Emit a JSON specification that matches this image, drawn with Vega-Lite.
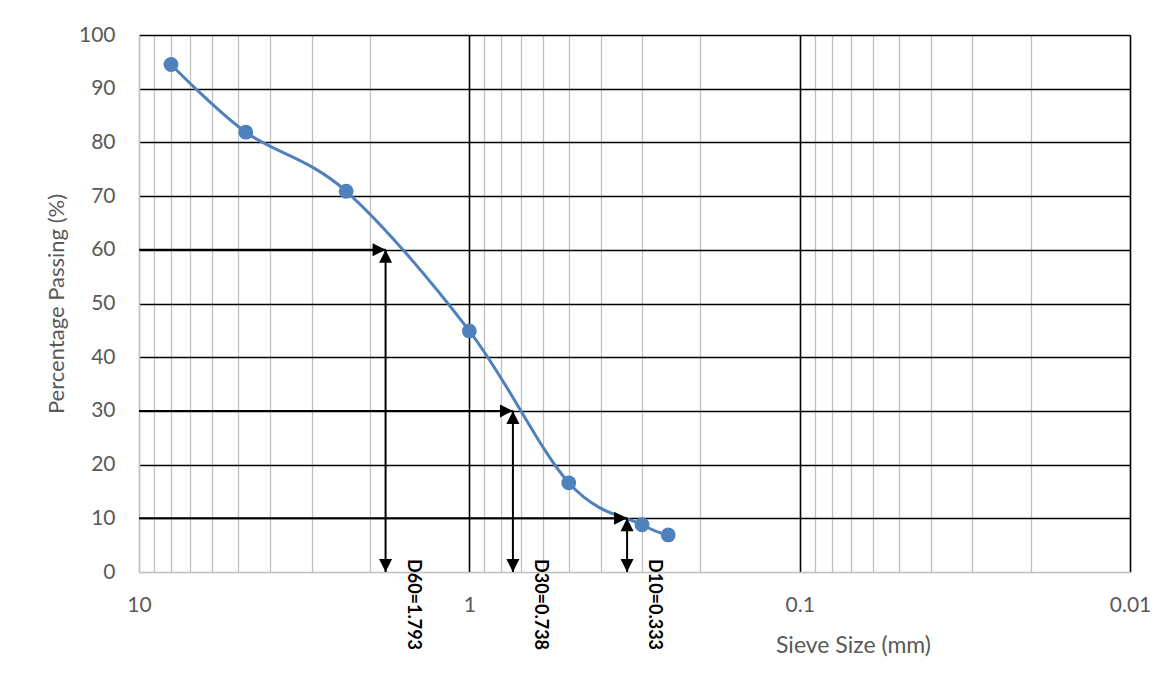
{
  "$schema": "https://vega.github.io/schema/vega-lite/v6.json",
  "width": 991,
  "height": 537,
  "autosize": {"type": "none"},
  "padding": {"left": 139, "top": 35, "right": 44, "bottom": 117},
  "background": "white",
  "config": {"view": {"stroke": null}, "font": "Lato"},
  "datasets": {
    "sieve": [
      {"size": 8, "passing": 94.5},
      {"size": 4.75, "passing": 81.9},
      {"size": 2.36, "passing": 70.9},
      {"size": 1.0, "passing": 44.9},
      {"size": 0.5, "passing": 16.6},
      {"size": 0.3, "passing": 8.8},
      {"size": 0.25, "passing": 6.9}
    ],
    "dvals": [
      {"d": 1.793, "p": 60, "label": "D60=1.793"},
      {"d": 0.738, "p": 30, "label": "D30=0.738"},
      {"d": 0.333, "p": 10, "label": "D10=0.333"}
    ]
  },
  "layer": [
    {
      "data": {"name": "sieve"},
      "mark": {"type": "line", "interpolate": "cardinal", "color": "#4f81bd", "strokeWidth": 3, "point": {"filled": true, "size": 220, "color": "#4f81bd", "opacity": 1}},
      "encoding": {
        "x": {
          "field": "size", "type": "quantitative",
          "scale": {"type": "log", "domain": [0.01, 10], "reverse": true, "nice": false},
          "axis": {
            "values": [0.01, 0.02, 0.03, 0.04, 0.05, 0.06, 0.07, 0.08, 0.09, 0.1, 0.2, 0.3, 0.4, 0.5, 0.6, 0.7, 0.8, 0.9, 1, 2, 3, 4, 5, 6, 7, 8, 9, 10],
            "grid": true,
            "gridColor": {"condition": {"test": "datum.value < 5 && abs(log(datum.value)/LN10 - round(log(datum.value)/LN10)) < 0.001", "value": "#000000"}, "value": "#bfbfbf"},
            "gridWidth": {"condition": {"test": "datum.value < 5 && abs(log(datum.value)/LN10 - round(log(datum.value)/LN10)) < 0.001", "value": 1.6}, "value": 1.25},
            "ticks": false,
            "domain": true,
            "domainColor": "#bfbfbf",
            "domainWidth": 1.5,
            "labelExpr": "abs(log(datum.value)/LN10 - round(log(datum.value)/LN10)) < 0.001 ? '' + datum.value : ''",
            "labelOverlap": false,
            "labelFlush": false,
            "labelFontSize": 21,
            "labelColor": "#595959",
            "labelPadding": 22,
            "title": "Sieve Size (mm)",
            "titleFontSize": 23,
            "titleFontWeight": "normal",
            "titleColor": "#595959",
            "titleAlign": "center",
            "titleBaseline": "middle",
            "titleX": 714,
            "titleY": 73
          }
        },
        "y": {
          "field": "passing", "type": "quantitative",
          "scale": {"domain": [0, 100], "nice": false},
          "axis": {
            "values": [0, 5, 10, 15, 20, 25, 30, 35, 40, 45, 50, 55, 60, 65, 70, 75, 80, 85, 90, 95, 100],
            "grid": true,
            "gridColor": {"condition": {"test": "datum.value > 0 && datum.value % 10 == 0", "value": "#000000"}, "value": "#eeeeee"},
            "gridWidth": {"condition": {"test": "datum.value > 0 && datum.value % 10 == 0", "value": 1.6}, "value": 1.25},
            "ticks": false,
            "domain": true,
            "domainColor": "#bfbfbf",
            "domainWidth": 1.5,
            "labelExpr": "datum.value % 10 == 0 ? datum.label : ''",
            "labelOverlap": false,
            "labelFontSize": 21,
            "labelColor": "#595959",
            "labelPadding": 24,
            "title": "Percentage Passing (%)",
            "titleFontSize": 22,
            "titleFontWeight": "normal",
            "titleColor": "#595959",
            "titlePadding": 10
          }
        }
      }
    },
    {
      "data": {"name": "dvals"},
      "mark": {"type": "rule", "color": "#000000", "strokeWidth": 2},
      "encoding": {
        "x": {"field": "d", "type": "quantitative"},
        "x2": {"datum": 10},
        "y": {"field": "p", "type": "quantitative"}
      }
    },
    {
      "data": {"name": "dvals"},
      "mark": {"type": "rule", "color": "#000000", "strokeWidth": 2},
      "encoding": {
        "x": {"field": "d", "type": "quantitative"},
        "y": {"field": "p", "type": "quantitative"},
        "y2": {"datum": 0}
      }
    },
    {
      "data": {"name": "dvals"},
      "mark": {"type": "point", "shape": "M0,0L-2,-1L-2,1Z", "filled": true, "color": "#000000", "size": 169, "opacity": 1, "strokeWidth": 0},
      "encoding": {
        "x": {"field": "d", "type": "quantitative"},
        "y": {"field": "p", "type": "quantitative"}
      }
    },
    {
      "data": {"name": "dvals"},
      "mark": {"type": "point", "shape": "M0,0L-1,2L1,2Z", "filled": true, "color": "#000000", "size": 169, "opacity": 1, "strokeWidth": 0},
      "encoding": {
        "x": {"field": "d", "type": "quantitative"},
        "y": {"field": "p", "type": "quantitative"}
      }
    },
    {
      "data": {"name": "dvals"},
      "mark": {"type": "point", "shape": "M0,0L-1,-2L1,-2Z", "filled": true, "color": "#000000", "size": 169, "opacity": 1, "strokeWidth": 0},
      "encoding": {
        "x": {"field": "d", "type": "quantitative"},
        "y": {"datum": 0, "type": "quantitative"}
      }
    },
    {
      "data": {"name": "dvals"},
      "mark": {"type": "text", "angle": 90, "align": "left", "baseline": "middle", "dx": -13, "dy": -27, "fontSize": 18, "fontWeight": "bold", "color": "#000000"},
      "encoding": {
        "x": {"field": "d", "type": "quantitative"},
        "y": {"datum": 0, "type": "quantitative"},
        "text": {"field": "label"}
      }
    }
  ]
}
